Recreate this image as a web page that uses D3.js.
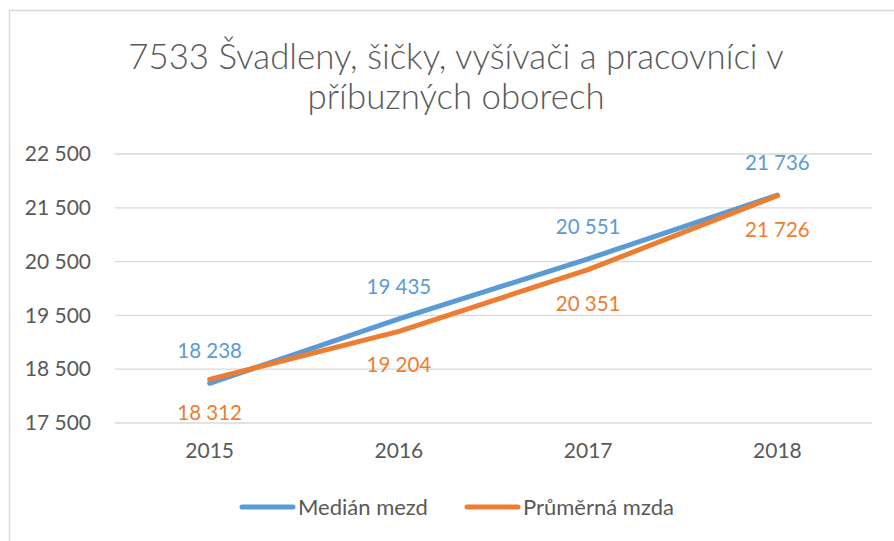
<!DOCTYPE html>
<html><head><meta charset="utf-8">
<script src="https://cdn.jsdelivr.net/npm/d3@7"></script>
<style>body{margin:0;background:#fff}svg{display:block}text{font-family:Lato,"Open Sans",sans-serif}</style>
</head><body><svg id="c" width="894" height="541"></svg>
<script>
const categories = ["2015","2016","2017","2018"];
const median = [18238,19435,20551,21736];
const average = [18312,19204,20351,21726];
const yTicks = [17500,18500,19500,20500,21500,22500];
const seriesNames = ["Medián mezd","Průměrná mzda"];
const titleLines = ["7533 Švadleny, šičky, vyšívači a pracovníci v","příbuzných oborech"];

const svg = d3.select("#c");
const W=894,H=541;
const m={l:115,r:22,t:154,b:118};
const colors=["#5b9bd5","#ed7d31"];
const grey="#595959";

svg.append("rect").attr("x",9.5).attr("y",10.5).attr("width",W+20).attr("height",H+20)
  .attr("fill","#fff").attr("stroke","#d9d9d9").attr("stroke-width",1.5);

const x=d3.scaleBand().domain(categories).range([m.l,W-m.r]);
const y=d3.scaleLinear().domain([17500,22500]).range([H-m.b,m.t]);

svg.append("g").selectAll("line").data(yTicks).join("line")
  .attr("x1",m.l).attr("x2",W-m.r).attr("y1",d=>y(d)).attr("y2",d=>y(d))
  .attr("stroke","#d9d9d9").attr("stroke-width",1.3);

const fmt=d=>d3.format(",")(d).replace(/,/g," ");
const yAxis=d3.axisLeft(y).tickValues(yTicks).tickFormat(fmt).tickSize(0).tickPadding(24);
const gy=svg.append("g").attr("transform",`translate(${m.l},0)`).call(yAxis);
gy.select(".domain").remove();
gy.selectAll("text").attr("font-size",21).attr("fill",grey).attr("font-family","Lato");

const xAxis=d3.axisBottom(x).tickSize(0).tickPadding(20);
const gx=svg.append("g").attr("transform",`translate(0,${H-m.b})`).call(xAxis);
gx.select(".domain").remove();
gx.selectAll("text").attr("font-size",21).attr("fill",grey).attr("font-family","Lato");

const cx=d=>x(d)+x.bandwidth()/2;
const line=d3.line().x((d,i)=>cx(categories[i])).y(d=>y(d));
[median,average].forEach((s,k)=>{
  svg.append("path").datum(s).attr("d",line).attr("fill","none")
    .attr("stroke",colors[k]).attr("stroke-width",5).attr("stroke-linecap","round").attr("stroke-linejoin","round");
});
svg.append("g").selectAll("text").data(median).join("text")
  .attr("x",(d,i)=>cx(categories[i])).attr("y",d=>y(d)-32).attr("dy","0.35em")
  .attr("text-anchor","middle").attr("font-size",20.5).attr("fill",colors[0]).text(fmt);
svg.append("g").selectAll("text").data(average).join("text")
  .attr("x",(d,i)=>cx(categories[i])).attr("y",d=>y(d)+34).attr("dy","0.35em")
  .attr("text-anchor","middle").attr("font-size",20.5).attr("fill",colors[1]).text(fmt);

svg.append("g").selectAll("text").data(titleLines).join("text")
  .attr("x",456).attr("y",(d,i)=>69+i*40).attr("text-anchor","middle")
  .attr("font-size",34.8).attr("font-weight",300).attr("fill",grey).text(d=>d);

const lg=svg.append("g");
const legX=[240,465];
seriesNames.forEach((n,k)=>{
  lg.append("line").attr("x1",legX[k]+2).attr("x2",legX[k]+53).attr("y1",507).attr("y2",507)
    .attr("stroke",colors[k]).attr("stroke-width",5).attr("stroke-linecap","round");
  lg.append("text").attr("x",legX[k]+58).attr("y",507).attr("dy","0.35em")
    .attr("font-size",22).attr("fill",grey).text(n);
});
</script></body></html>
